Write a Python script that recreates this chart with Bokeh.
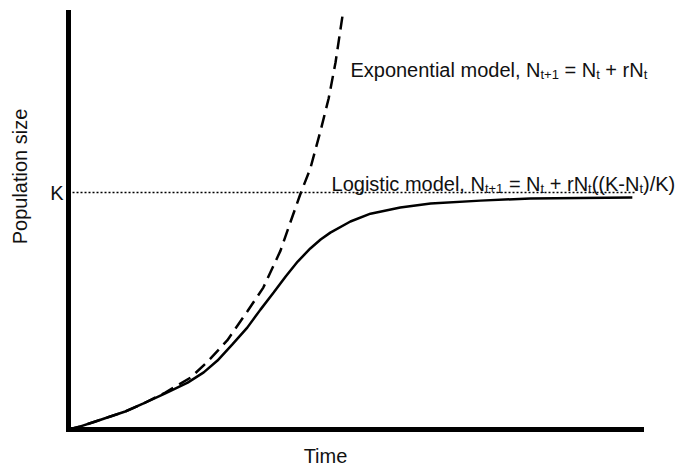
import math
from bokeh.plotting import figure
from bokeh.models import Label, FixedTicker
from bokeh.embed import file_html
from bokeh.resources import INLINE

# ---------------- data ----------------
K = 100.0

logistic_time = [0, 2.1, 4.7, 7.3, 9.9, 13.1, 16.9, 20.8, 23.6, 26.0, 28.6, 31.2, 33.5,
                 35.8, 37.9, 40.0, 42.2, 44.0, 45.7, 49.2, 52.7, 57.9, 63.2, 71.9, 80.6,
                 89.4, 98.4]
logistic_pop = [0, 1.3, 3.4, 5.5, 7.6, 11.0, 15.2, 19.8, 24.1, 29.1, 35.9, 43.0, 50.6,
                57.8, 64.6, 70.9, 76.4, 80.2, 83.1, 87.8, 91.1, 93.7, 95.4, 96.6, 97.5,
                97.7, 97.9]

exp_time = [0, 2.1, 4.7, 7.3, 9.9, 13.1, 16.9, 21.3, 24.3, 27.7, 31.2, 34.0, 37.0,
            38.7, 40.5, 42.2, 44.0, 45.4, 46.6, 47.8]
exp_pop = [0, 1.3, 3.4, 5.5, 7.6, 11.0, 15.6, 21.9, 28.7, 37.6, 49.8, 59.9, 75.5,
           87.3, 99.6, 110.1, 126.2, 139.7, 154.9, 174.3]

k_line_time = [0.7, 99.0]

time_axis_end = 100.0
pop_axis_end = 176.0

x_label = "Time"
y_label = "Population size"
k_label = "K"

# ---------------- layout ----------------
W, H = 695, 470
AX_LEFT_PX, AX_BOTTOM_PX = 68, 429     # where the two axis lines sit
PX_PER_T = 5.73                        # px per time unit
PX_PER_N = 2.3693                      # px per population unit

x_start = -AX_LEFT_PX / PX_PER_T
x_end = (W - AX_LEFT_PX) / PX_PER_T
y_start = -(H - AX_BOTTOM_PX) / PX_PER_N
y_end = AX_BOTTOM_PX / PX_PER_N

FONT = "Liberation Sans"
BIG, SMALL = 20, 13
INK = "#111111"

p = figure(width=W, height=H, x_range=(x_start, x_end), y_range=(y_start, y_end),
           output_backend="svg", toolbar_location=None,
           min_border_left=0, min_border_right=0, min_border_top=0, min_border_bottom=0)
p.outline_line_color = None
p.grid.visible = False
p.background_fill_color = "white"
p.border_fill_color = "white"

xa, ya = p.xaxis[0], p.yaxis[0]
xa.fixed_location = 0
ya.fixed_location = 0
xa.bounds = (0, time_axis_end)
ya.bounds = (0, pop_axis_end)
for ax in (xa, ya):
    ax.axis_line_width = 5
    ax.axis_line_color = "black"
    ax.axis_line_cap = "square"
    ax.major_tick_line_color = None
    ax.minor_tick_line_color = None
    ax.major_tick_out = 0
    ax.minor_tick_out = 0

xa.ticker = FixedTicker(ticks=[])
xa.major_label_text_font_size = "0px"
ya.ticker = FixedTicker(ticks=[K])
ya.major_label_overrides = {K: k_label}
ya.major_label_text_font = FONT
ya.major_label_text_font_size = f"{BIG}px"
ya.major_label_text_color = INK
ya.major_label_standoff = 5

# K dotted line
p.line(k_line_time, [K, K], line_color="black", line_width=1.5, line_dash="2 2")
# exponential (dashed) and logistic (solid)
p.line(exp_time, exp_pop, line_color="black", line_width=2.5, line_dash="13 7")
p.line(logistic_time, logistic_pop, line_color="black", line_width=2.5)

# -------- text helpers (Arial / Liberation Sans advance widths, 1/1000 em) --------
ADV = {' ': 278, ',': 278, '=': 584, '+': 584, '(': 333, ')': 333, '-': 333, '/': 278,
       '1': 556, 'E': 667, 'K': 667, 'L': 556, 'N': 722, 'a': 556, 'c': 500, 'd': 556,
       'e': 556, 'g': 556, 'i': 222, 'l': 222, 'm': 833, 'n': 556, 'o': 556, 'p': 556,
       'r': 333, 's': 500, 't': 278, 'x': 500}


def adv(s, size):
    return sum(ADV.get(c, 556) for c in s) * size / 1000.0


def rich(segments, x0, y0):
    """x0, y0: data coords of the baseline start."""
    off = 0.0
    for txt, sub in segments:
        size = SMALL if sub else BIG
        lead = len(txt) - len(txt.lstrip(' '))
        shown = txt.strip(' ')
        dx = off + adv(' ' * lead, size)
        dy = -5 if sub else 0
        if shown:
            p.add_layout(Label(x=x0 + dx / PX_PER_T, y=y0 + dy / PX_PER_N, text=shown,
                               text_font=FONT, text_font_size=f"{size}px",
                               text_color=INK, text_baseline="alphabetic", text_align="left"))
        off += adv(txt, size)


rich([("Exponential model, N", False), ("t+1", True), (" = N", False), ("t", True),
      (" + rN", False), ("t", True)], 49.2, 151.9)
rich([("Logistic model, N", False), ("t+1", True), (" = N", False), ("t", True),
      (" + rN", False), ("t", True), ("((K-N", False), ("t", True), (")/K)", False)],
     45.9, 103.8)

p.add_layout(Label(x=44.85, y=-11.0, text=x_label, text_font=FONT,
                   text_font_size=f"{BIG}px", text_color=INK,
                   text_align="center", text_baseline="middle"))
p.add_layout(Label(x=-8.4, y=106.8, text=y_label, text_font=FONT, angle=math.pi / 2,
                   text_font_size=f"{BIG}px", text_color=INK,
                   text_align="center", text_baseline="middle"))

open("out.html", "w").write(file_html(p, INLINE))
